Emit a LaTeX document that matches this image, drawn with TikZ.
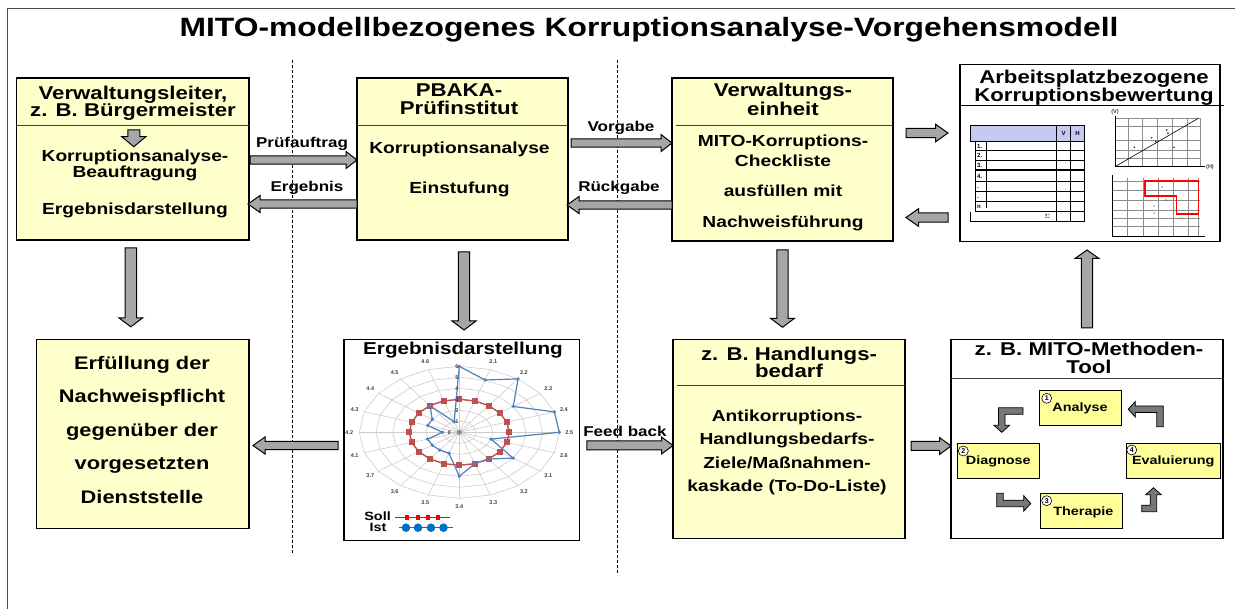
\documentclass[tikz,border=0pt]{standalone}
\usepackage{fontspec}
\setmainfont{Liberation Sans}
\usetikzlibrary{calc}

\definecolor{boxyellow}{RGB}{255,255,204}
\definecolor{stepyellow}{RGB}{255,255,153}
\definecolor{arrowgray}{RGB}{166,166,166}
\definecolor{bentgray}{RGB}{120,120,120}
\definecolor{sollred}{RGB}{192,80,77}
\definecolor{istblue}{RGB}{79,129,189}
\definecolor{legendblue}{RGB}{0,112,192}
\definecolor{gridgray}{RGB}{205,205,205}
\definecolor{headblue}{RGB}{198,201,240}

\tikzset{
  box/.style={draw, line width=1.2pt, inner sep=0pt, outer sep=0pt, anchor=north west},
  wide/.style={xscale=1.2, transform shape, inner sep=0pt, anchor=base},
  titel/.style={wide, font=\fontsize{26.5}{30}\selectfont\bfseries},
  kopf/.style={wide, font=\fontsize{18.5}{20}\selectfont\bfseries},
  inhalt/.style={wide, font=\fontsize{16}{18}\selectfont\bfseries},
  pflicht/.style={wide, font=\fontsize{18.2}{20}\selectfont\bfseries},
  pfeiltext/.style={wide, font=\fontsize{14.2}{16}\selectfont\bfseries},
  schritt/.style={wide, font=\fontsize{12}{14}\selectfont\bfseries},
  klein/.style={inner sep=0pt, anchor=base, font=\fontsize{6}{6}\selectfont\bfseries},
  achse/.style={inner sep=0pt, font=\fontsize{5.5}{6}\selectfont\bfseries, text=black!75},
  trenn/.style={line width=0.8pt, black!75},
  blockarrow/.style={fill=arrowgray, draw=black, line width=1pt, line join=miter},
  bentarrow/.style={fill=bentgray, draw=black, line width=0.8pt, line join=miter},
  nummer/.style={circle, draw, line width=0.6pt, fill=white, inner sep=0pt, minimum size=10pt,
    font=\fontsize{7}{7}\selectfont\bfseries}
}

\newcommand*{\TextRows}[4]{% #1 = name, #2 = style, #3 = x, #4 = list of y/text
\foreach \y/\words [count=\i] in {#4} {
\node [#2] (#1-\i) at (#3,\y) {\words};
}%
}
\newcommand*{\BlockArrow}[5]{% #1 = from, #2 = tip, #3 = shaft, #4 = head, #5 = head length
\draw [blockarrow] let \p1=#1, \p2=#2,
  \n1={atan2(\y2-\y1,\x2-\x1)}, \n2={veclen(\x2-\x1,\y2-\y1)} in
  [shift={(\p1)}, rotate=\n1]
  (0pt,-#3pt) -- (\n2-#5pt,-#3pt) -- (\n2-#5pt,-#4pt) -- (\n2+0pt,0pt)
  -- (\n2-#5pt,#4pt) -- (\n2-#5pt,#3pt) -- (0pt,#3pt) -- cycle;
}
\newcommand*{\BentArrow}[4]{% #1 = outer corner, #2 = angle, #3 = tail, #4 = length
\draw [bentarrow, shift={#1}, rotate=#2]
  (#3pt,0pt) -- (0pt,0pt) -- (0pt,7pt-#4pt) -- (-4.5pt,7pt-#4pt) -- (3.25pt,-#4pt)
  -- (11pt,7pt-#4pt) -- (6.5pt,7pt-#4pt) -- (6.5pt,-6.5pt) -- (#3pt,-6.5pt) -- cycle;
}

\begin{document}
\begin{tikzpicture}[x=1pt, y=-1pt]
\useasboundingbox (0,0) rectangle (1235,609);

% frame and title
\draw [line width=1pt, black!70] (7.5,609) -- (7.5,9) -- (1235,9);
\node [titel] (titel) at (649,36.7) {MITO-modellbezogenes Korruptionsanalyse-Vorgehensmodell};

\draw [dashed, dash pattern=on 3pt off 2pt, line width=0.7pt] (292.5,60) -- (292.5,555);
\draw [dashed, dash pattern=on 3pt off 2pt, line width=0.7pt] (617.5,60) -- (617.5,575);

% upper row
\node [box, fill=boxyellow, minimum width=232.4pt, minimum height=162pt] (leiter) at (16.6,78) {};
\node [box, fill=boxyellow, minimum width=211pt, minimum height=162pt] (pbaka) at (357,78) {};
\node [box, fill=boxyellow, minimum width=221pt, minimum height=163pt] (einheit) at (672,78) {};
\node [box, fill=white, minimum width=260pt, minimum height=177pt] (bewertung) at (960,64.5) {};

\draw [trenn] ($(leiter.north west)+(0,47.3)$) -- ($(leiter.north east)+(0,47.3)$);
\draw [trenn] ($(pbaka.north west)+(0,47)$) -- ($(pbaka.north east)+(0,47)$);
\draw [trenn] ($(einheit.north west)+(4,47)$) -- ($(einheit.north east)+(0,47)$);
\draw [line width=0.8pt] ($(bewertung.north west)+(0,40.5)$) -- ($(bewertung.north east)+(4,40.5)$);

\TextRows{leiterkopf}{kopf}{133}{100/{Verwaltungsleiter,}, 116.7/{z. B. Bürgermeister}}
\TextRows{leitertext}{inhalt}{135}{161.7/{Korruptionsanalyse-}, 177.7/{Beauftragung}, 215/{Ergebnisdarstellung}}
\TextRows{pbakakopf}{kopf}{459}{96.7/{PBAKA-}, 115/{Prüfinstitut}}
\TextRows{pbakatext}{inhalt}{459.5}{153.3/{Korruptionsanalyse}, 193.3/{Einstufung}}
\TextRows{einheitkopf}{kopf}{783}{96.7/{Verwaltungs-}, 116/{einheit}}
\TextRows{einheittext}{inhalt}{783}{146.7/{MITO-Korruptions-}, 166.7/{Checkliste}, 196.7/{ausfüllen mit}, 228/{Nachweisführung}}
\TextRows{bewertungkopf}{kopf}{1094}{84/{Arbeitsplatzbezogene}, 102/{Korruptionsbewertung}}

\BlockArrow{($(leiter.north)+(1,52)$)}{($(leiter.north)+(1,68.7)$)}{6}{12}{10}

% checklist table
\draw [fill=headblue, line width=0.6pt] (970,125) rectangle (1084.3,141);
\foreach \y in {150.7,160,170,181.7,191.7,201.7,211.7,221.7} {
\draw [line width=0.6pt] (975,\y) -- (1084.3,\y);
}
\draw [line width=1pt] (975,170) -- (1084.3,170);
\draw [line width=1pt] (970,211.7) -- (970,221.7) -- (1084.3,221.7);
\draw [line width=0.6pt] (975,141) -- (975,211.7);
\draw [line width=0.5pt] (986.7,141) -- (986.7,208);
\draw [line width=1pt] (1056.7,125) -- (1056.7,221.7);
\draw [line width=0.5pt] (1070.7,125) -- (1070.7,221.7);
\draw [line width=0.5pt] (1084.3,125) -- (1084.3,221.7);
\node [klein] (spalteV) at (1063.7,136) {V};
\node [klein] (spalteH) at (1077.5,136) {H};
\TextRows{zeile}{klein, anchor=base west}{977}{148.6/{1.}, 158/{2.}, 168/{3.}, 179/{4.}, 189/{.}, 199/{.}, 209/{n}}
\node [klein, anchor=base east] (summe) at (1050,219) {$\Sigma$};

% plot V over H
\foreach \gx in {1128.3,1141.7,1156.7,1171.7,1186.7,1200} {
\draw [black!45, line width=0.4pt] (\gx,118.3) -- (\gx,166.7);
}
\foreach \gy in {118.3,126.7,140,150,158.3} {
\draw [black!45, line width=0.4pt] (1115,\gy) -- (1200,\gy);
}
\draw [line width=0.8pt] (1115,116) -- (1115,166.7) -- (1205,166.7);
\draw [line width=0.6pt] (1115,166.7) -- (1198.3,118.3);
\foreach \px/\py in {1134.3/147.3, 1151.7/137.7, 1155.7/141.7, 1174/147.3, 1166.7/130, 1168/133} {
\fill (\px,\py) circle (0.8pt);
}
\node [achse] (achseV) at (1115,112) {(V)};
\node [achse] (achseH) at (1210,167) {(H)};

% plot with red area
\foreach \gx in {1126.7,1143.3,1158.3,1173.3,1188.3,1198.3} {
\draw [black!45, line width=0.4pt] (\gx,178) -- (\gx,236.7);
}
\foreach \gy in {181.7,190,200,210,218.3,226.7} {
\draw [black!45, line width=0.4pt] (1112.3,\gy) -- (1200,\gy);
}
\draw [line width=0.8pt] (1112.3,175) -- (1112.3,236.7) -- (1205,236.7);
\draw [red, line width=1.2pt] (1145,181) -- (1198.3,181) -- (1198.3,214) -- (1176.7,214)
  -- (1176.7,196) -- (1145,196) -- cycle;
\foreach \px/\py in {1162/187, 1166/200, 1154/206, 1154/213, 1192/214} {
\fill (\px,\py) circle (0.7pt);
}

% lower row
\node [box, fill=boxyellow, minimum width=212.6pt, minimum height=189pt] (pflicht) at (36.4,339.3) {};
\node [box, fill=white, minimum width=235.8pt, minimum height=201.4pt] (ergebnis) at (344,339.3) {};
\node [box, fill=boxyellow, minimum width=232pt, minimum height=199pt] (bedarf) at (673,339.3) {};
\node [box, fill=white, minimum width=272pt, minimum height=199pt] (methoden) at (951,339.3) {};

\draw [trenn] ($(bedarf.north west)+(4,46)$) -- ($(bedarf.north east)+(0,46)$);
\draw [trenn] ($(methoden.north west)+(0,39)$) -- ($(methoden.north east)+(0,39)$);

\TextRows{pflichttext}{pflicht}{142}{370/{Erfüllung der}, 403/{Nachweispflicht}, 436.7/{gegenüber der}, 470/{vorgesetzten}, 503.3/{Dienststelle}}
\TextRows{bedarfkopf}{kopf}{789}{360.7/{z. B. Handlungs-}, 378/{bedarf}}
\TextRows{bedarftext}{inhalt}{787}{421.7/{Antikorruptions-}, 445/{Handlungsbedarfs-}, 468.3/{Ziele/Maßnahmen-}, 491.7/{kaskade (To-Do-Liste)}}
\TextRows{methodenkopf}{kopf}{1089}{355.5/{z. B. MITO-Methoden-}, 374/{Tool}}
\node [wide, font=\fontsize{17.2}{19}\selectfont\bfseries] (ergebniskopf) at (463,355) {Ergebnisdarstellung};

% radar chart
\begin{scope}[shift={(459.3pt,-432.3pt)}, x=100pt, y=66pt]
\foreach \a in {0,18,...,342} {
\draw [gridgray, line width=0.6pt] (0,0) -- ({sin(\a)},{cos(\a)});
}
\foreach \r in {1,...,6} {
\draw [gridgray, line width=0.6pt] plot [samples at={0,18,...,360}] ({\r/6*sin(\x)},{\r/6*cos(\x)});
}
\fill [black!45] (0,0) circle (2.5pt);
\draw [sollred, line width=1.4pt] plot [samples at={0,18,...,360}] ({0.5*sin(\x)},{0.5*cos(\x)});
\foreach \a in {0,18,...,342} {
\fill [sollred] ({0.5*sin(\a)},{0.5*cos(\a)}) +(-3pt,-3pt) rectangle +(3pt,3pt);
}
\foreach \v [count=\i from 0] in {6,5,6,4,6,6,2,4,3,3,4,2,2,2,2,1,2,2,3,1} {
\coordinate (ist\i) at ({\v/6*sin(18*\i)},{\v/6*cos(18*\i)});
}
\draw [istblue, line width=1.2pt] (ist0) \foreach \i in {1,...,19} { -- (ist\i) } -- cycle;
\foreach \i in {0,...,19} {
\fill [istblue] (ist\i) circle (1.8pt);
}
\foreach \lab [count=\i] in {2.1,2.2,2.3,2.4,2.5,2.6,3.1,3.2,3.3,3.4,3.5,3.6,3.7,4.1,4.2,4.3,4.4,4.5,4.6} {
\node [achse] (kat\i) at ({1.1*sin(18*\i)},{1.12*cos(18*\i)}) {\lab};
}
\foreach \v in {1,...,6} {
\node [achse] (skala\v) at (-0.025,\v/6) {\v};
}
\node [achse] (skala0) at (-0.1,0) {0};
\end{scope}

% legend
\node [schritt, anchor=base east] (soll) at (391,521) {Soll};
\node [schritt, anchor=base east] (ist) at (386.6,531.7) {Ist};
\draw [red, line width=1pt] (395,517.3) -- (450,517.3);
\foreach \lx in {407,418,428,438} {
\fill [red] (\lx,517.3) +(-2.2pt,-2.2pt) rectangle +(2.2pt,2.2pt);
}
\draw [legendblue, line width=1pt] (399,527.7) -- (452.6,527.7);
\foreach \lx in {406,418,431,443.5} {
\fill [legendblue] (\lx,527.7) circle (4.3pt);
}

% MITO method cycle
\node [box, fill=stepyellow, line width=0.8pt, minimum width=82.4pt, minimum height=35.7pt] (analyse) at (1039.3,390) {};
\node [box, fill=stepyellow, line width=0.8pt, minimum width=82pt, minimum height=35pt] (diagnose) at (957.3,443.3) {};
\node [box, fill=stepyellow, line width=0.8pt, minimum width=81.6pt, minimum height=35pt] (therapie) at (1040.7,493.3) {};
\node [box, fill=stepyellow, line width=0.8pt, minimum width=94pt, minimum height=35pt] (evaluierung) at (1126,443.3) {};
\node [schritt] (analysetext) at (1080,411.7) {Analyse};
\node [schritt] (diagnosetext) at (998.3,465) {Diagnose};
\node [schritt] (therapietext) at (1083.3,515) {Therapie};
\node [schritt] (evaluierungtext) at (1173.3,465) {Evaluierung};
\node [nummer] (nr1) at (1046.7,398.3) {1};
\node [nummer] (nr2) at (963.3,451) {2};
\node [nummer] (nr3) at (1046.7,500.7) {3};
\node [nummer] (nr4) at (1131.7,450) {4};

\BentArrow{($(analyse.west)+(-40.8,0)$)}{0}{24.5}{24.5}
\BentArrow{($(diagnose.south)+(-1.6,28.4)$)}{90}{13.4}{34}
\BentArrow{($(therapie.east)+(34.4,0.9)$)}{180}{15}{24}
\BentArrow{($(analyse.east)+(41.6,-1.85)$)}{-90}{20.7}{35}

% connectors
\BlockArrow{($(leiter.east)+(1,1)$)}{($(pbaka.west)+(0,1)$)}{4.2}{8.5}{11}
\BlockArrow{($(pbaka.west)+(0,45)$)}{($(leiter.east)+(-1,45)$)}{4.2}{8.5}{12}
\BlockArrow{($(pbaka.east)+(3,-16)$)}{($(einheit.west)+(0,-16.5)$)}{4.2}{8.5}{11}
\BlockArrow{($(einheit.west)+(0,45.5)$)}{($(pbaka.east)+(-1,46)$)}{4.2}{8.5}{12}
\BlockArrow{($(einheit.east)+(13,-26.5)$)}{($(bewertung.west)+(-12,-20)$)}{4.6}{8.8}{12.5}
\BlockArrow{($(bewertung.west)+(-12,64.5)$)}{($(einheit.east)+(13,58)$)}{4.6}{8.8}{12.5}
\BlockArrow{($(leiter.south)+(-2,8)$)}{($(leiter.south |- pflicht.north)+(-2,-12.5)$)}{5.7}{12}{9}
\BlockArrow{($(pbaka.south)+(1.5,12)$)}{($(pbaka.south |- ergebnis.north)+(1.5,-9.3)$)}{5.7}{12}{9}
\BlockArrow{($(einheit.south)+(0,9)$)}{($(einheit.south |- bedarf.north)+(0,-12)$)}{5.7}{12}{9}
\BlockArrow{($(bewertung.south |- methoden.north)+(-3,-11.3)$)}{($(bewertung.south)+(-3,8.5)$)}{5.7}{12}{8.5}
\BlockArrow{($(ergebnis.west)+(-6,5.5)$)}{($(pflicht.east |- ergebnis.west)+(4,5.5)$)}{4.2}{8.5}{12}
\BlockArrow{($(ergebnis.east)+(7,5.5)$)}{($(bedarf.west |- ergebnis.east)+(0,5.5)$)}{4.5}{8.5}{11.5}
\BlockArrow{($(bedarf.east)+(6,7.2)$)}{($(methoden.west |- bedarf.east)+(0,7.2)$)}{4.5}{8.5}{11.5}

\node [pfeiltext] (pruefauftrag) at (302,148) {Prüfauftrag};
\node [pfeiltext] (ergebnislabel) at (307,191.7) {Ergebnis};
\node [pfeiltext] (vorgabe) at (621,131.7) {Vorgabe};
\node [pfeiltext] (rueckgabe) at (619,191.7) {Rückgabe};
\node [pfeiltext] (feedback) at (625,437) {Feed back};

\end{tikzpicture}
\end{document}
